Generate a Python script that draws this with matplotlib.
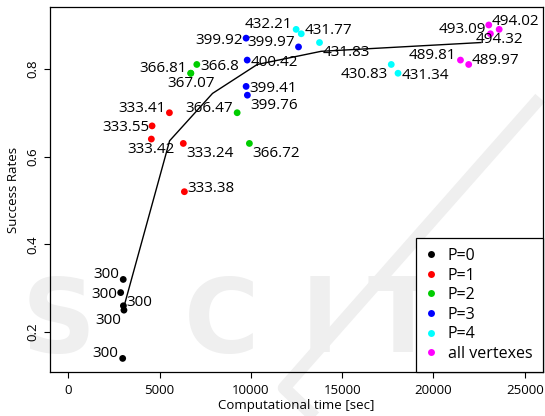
import matplotlib
matplotlib.use('Agg')
import matplotlib.pyplot as plt
from matplotlib.lines import Line2D

plt.rcParams['font.family'] = ['Open Sans', 'DejaVu Sans']

GROUPS = ['P=0', 'P=1', 'P=2', 'P=3', 'P=4', 'all vertexes']
COLORS = ['#000000', '#ff0000', '#00cd00', '#0000ff', '#00ffff', '#ff00ff']

# computational time [sec], success rate and annotation for every run
time_p0 = [3010, 2870, 3020, 3050, 2980]
rate_p0 = [0.32, 0.29, 0.26, 0.25, 0.14]
text_p0 = ['300', '300', '300', '300', '300']
where_p0 = ['ul', 'l', 'ur', 'll', 'ul']

time_p1 = [5540, 4590, 4550, 6300, 6360]
rate_p1 = [0.70, 0.67, 0.64, 0.63, 0.52]
text_p1 = ['333.41', '333.55', '333.42', '333.24', '333.38']
where_p1 = ['ul', 'l', 'b', 'lr', 'ur']

time_p2 = [7040, 6710, 6710, 9250, 9920]
rate_p2 = [0.81, 0.79, 0.79, 0.70, 0.63]
text_p2 = ['366.8', '366.81', '367.07', '366.47', '366.72']
where_p2 = ['r', 'ul', 'b', 'ul', 'lr']

time_p3 = [9740, 12610, 9800, 9740, 9810]
rate_p3 = [0.87, 0.85, 0.82, 0.76, 0.74]
text_p3 = ['399.92', '399.97', '400.42', '399.41', '399.76']
where_p3 = ['l', 'ul', 'r', 'r', 'lr']

time_p4 = [12480, 12760, 13760, 17690, 18060]
rate_p4 = [0.89, 0.88, 0.86, 0.81, 0.79]
text_p4 = ['432.21', '431.77', '431.83', '430.83', '431.34']
where_p4 = ['ul', 'ur', 'lr', 'll', 'r']

time_all = [23030, 23600, 23120, 21480, 21930]
rate_all = [0.90, 0.89, 0.88, 0.82, 0.81]
text_all = ['494.02', '494.32', '493.09', '489.81', '489.97']
where_all = ['ur', 'b', 'ul', 'ul', 'ur']

# trend line through the groups
line_time = [3050, 5550, 7900, 10350, 13850, 22600]
line_rate = [0.258, 0.636, 0.744, 0.810, 0.840, 0.860]

x_ticks = [0, 5000, 10000, 15000, 20000, 25000]
y_ticks = [0.2, 0.4, 0.6, 0.8]

# label placement: (dx, dy) in pixels from the point, horizontal alignment
PLACE = {
    'ul': (-4, 1, 'right'),
    'ur': (3, 0, 'left'),
    'l':  (-3, -5.5, 'right'),
    'r':  (3.5, -5.5, 'left'),
    'lr': (3, -13.5, 'left'),
    'll': (-3, -13.5, 'right'),
    'b':  (0, -13.5, 'center'),
}

series = [
    (time_p0, rate_p0, text_p0, where_p0),
    (time_p1, rate_p1, text_p1, where_p1),
    (time_p2, rate_p2, text_p2, where_p2),
    (time_p3, rate_p3, text_p3, where_p3),
    (time_p4, rate_p4, text_p4, where_p4),
    (time_all, rate_all, text_all, where_all),
]

fig = plt.figure(figsize=(5.45, 4.16), dpi=100)

# faint publisher watermark behind the plot
wm = '#efefef'
for ch, cx in zip('SCITE', [59, 222, 320, 402, 508]):
    fig.text(cx / 545, 1 - 324 / 416, ch, fontsize=74, fontweight='bold',
             family='DejaVu Sans', color=wm, ha='center', va='center',
             zorder=0)
fig.add_artist(Line2D([540 / 545, 284 / 545, 318 / 545],
                      [1 - 98 / 416, 1 - 388 / 416, 1 - 420 / 416],
                      color=wm, lw=9, solid_capstyle='butt', zorder=0))

ax = fig.add_axes([50 / 545, 44 / 416, 493 / 545, 365 / 416])
ax.set_zorder(2)
ax.patch.set_alpha(0)

ax.plot(line_time, line_rate, color='black', lw=1.0, zorder=2)

for (ts, rs, texts, wheres), color in zip(series, COLORS):
    ax.scatter(ts, rs, s=24, color=color, edgecolor='none', zorder=3)
    for t, r, s, w in zip(ts, rs, texts, wheres):
        dx, dy, ha = PLACE[w]
        ax.annotate(s, (t, r), xytext=(dx, dy), textcoords='offset pixels',
                    ha=ha, va='baseline', fontsize=11, zorder=4)

ax.set_xlim(-1000, 26000)
ax.set_ylim(0.109, 0.941)
ax.set_xticks(x_ticks)
ax.set_xticklabels([str(v) for v in x_ticks])
ax.set_yticks(y_ticks)
ax.set_yticklabels([f'{v:.1f}' for v in y_ticks], rotation=90, va='center')
ax.tick_params(direction='out', length=4, width=0.8, labelsize=9.5)
ax.tick_params(axis='x', pad=4.5)
ax.tick_params(axis='y', pad=4)
ax.set_xlabel('Computational time [sec]', fontsize=9.5, labelpad=1.5)
ax.set_ylabel('Success Rates', fontsize=9.5, labelpad=4)
for sp in ax.spines.values():
    sp.set_linewidth(0.9)

handles = [Line2D([], [], ls='none', marker='o', ms=5, color=c,
                  markeredgewidth=0) for c in COLORS]
leg = ax.legend(handles, GROUPS, loc='lower right', fontsize=11.5,
                borderaxespad=0, fancybox=False, framealpha=1,
                edgecolor='black', handlelength=0.6, handletextpad=0.75,
                borderpad=0.65, labelspacing=0.22)
leg.get_frame().set_linewidth(0.9)

fig.savefig('out.png', dpi=100)
